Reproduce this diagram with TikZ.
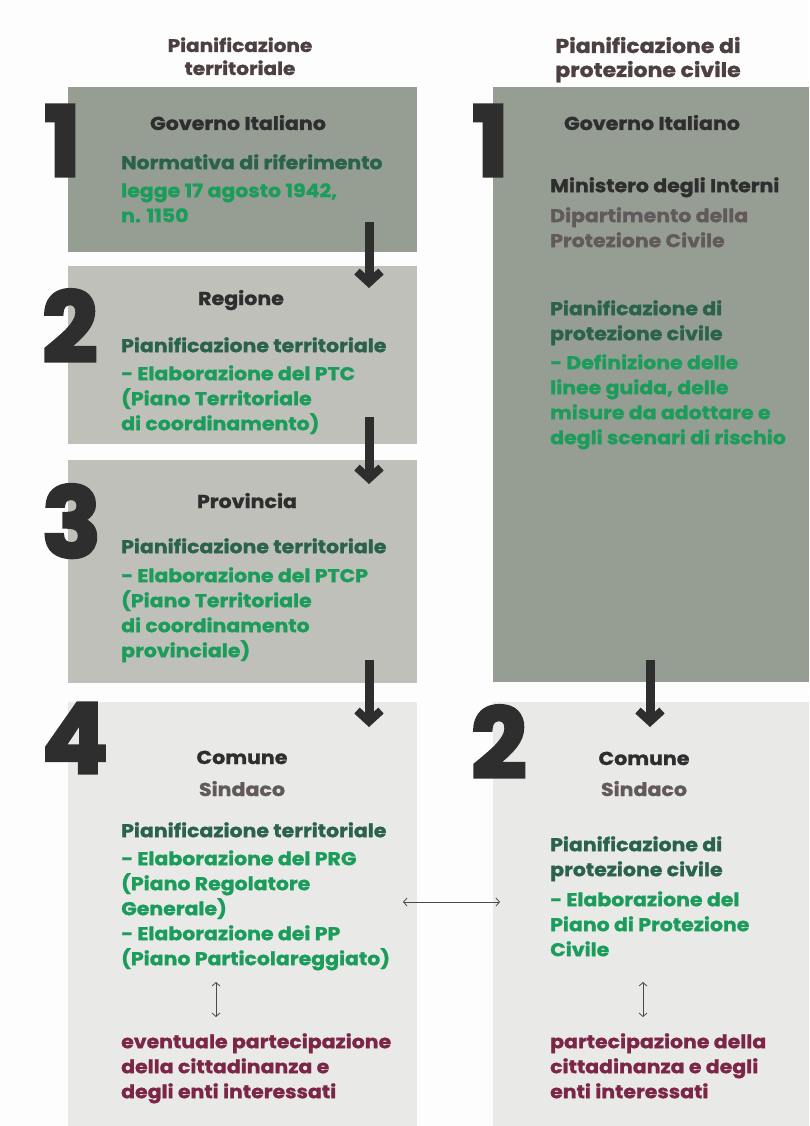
\documentclass[tikz,border=0pt]{standalone}
\usepackage{fontspec}
\setmainfont{Poppins}[BoldFeatures={FakeBold=1.2, FakeStretch=1.1}]
\newfontfamily\numfont{Poppins}[BoldFeatures={FakeBold=3.5}]
\usetikzlibrary{arrows.meta}
\definecolor{bg}{HTML}{FDFDFD}
\definecolor{boxA}{HTML}{969E94}
\definecolor{boxB}{HTML}{BFC0BA}
\definecolor{boxC}{HTML}{E9EAE8}
\definecolor{ink}{HTML}{2E2E2E}
\definecolor{head}{HTML}{4D4040}
\definecolor{dgreen}{HTML}{2A624B}
\definecolor{bgreen}{HTML}{1C9C5B}
\definecolor{grayt}{HTML}{625A5A}
\definecolor{maroon}{HTML}{7B2647}
\definecolor{thin}{HTML}{4A4A4A}
\begin{document}
\begin{tikzpicture}[x=1pt,y=-1pt,
  panel/.style={fill=#1, draw=none, inner sep=0pt, anchor=north west},
  num/.style={anchor=base west, inner sep=0pt, text=ink, font=\numfont\bfseries\fontsize{97}{97}\selectfont},
  hdr/.style={anchor=base, align=center, inner sep=0pt, text=head, font=\bfseries\fontsize{18.2}{23}\selectfont},
  title/.style={anchor=base, inner sep=0pt, text=#1, font=\bfseries\fontsize{18.7}{25}\selectfont},
  block/.style={anchor=north west, align=left, inner sep=0pt, font=\bfseries\fontsize{18.6}{25}\selectfont},
  bigarrow/.style={draw=ink, line width=9pt, -{Straight Barb[length=11pt,width=24pt,line width=8pt]}},
  dbl/.style={draw=thin, line width=0.8pt, {Straight Barb[length=3.5pt,width=8pt]}-{Straight Barb[length=3.5pt,width=8pt]}}
]
\newcommand{\fs}{\rule{0pt}{16pt}}
\path[use as bounding box, fill=bg] (0,0) rectangle (809,1126);

% panels
\node[panel=boxA, minimum width=349pt, minimum height=165pt] (p1) at (68,87) {};
\node[panel=boxB, minimum width=349pt, minimum height=178pt] (p2) at (68,266) {};
\node[panel=boxB, minimum width=349pt, minimum height=223pt] (p3) at (68,460) {};
\node[panel=boxC, minimum width=349pt, minimum height=424pt] (p4) at (68,702) {};
\node[panel=boxA, minimum width=316pt, minimum height=595pt] (q1) at (493,87) {};
\node[panel=boxC, minimum width=316pt, minimum height=424pt] (q2) at (493,702) {};

% headers (anchor = baseline of last line)
\node[hdr] (h1) at (240,75) {Pianificazione\\territoriale};
\node[hdr, font=\bfseries\fontsize{20}{24}\selectfont] (h2) at (648,77) {Pianificazione di\\protezione civile};

% numbers
\node[num] (n1) at (44,176) {1};
\node[num] (n2) at (42,362) {2};
\node[num] (n3) at (42,557) {3};
\node[num] (n4) at (42,773) {4};
\node[num] (m1) at (472,176) {1};
\node[num] (m2) at (471,778) {2};

% left column texts
\node[title=ink] (t1) at (238,130) {Governo Italiano};
\node[block] (b1) at (121,153) {\fs\textcolor{dgreen}{Normativa di riferimento}\\[3pt]
  \textcolor{bgreen}{legge 17 agosto 1942,}\\ \textcolor{bgreen}{n. 1150}};

\node[title=ink] (t2) at (241,305) {Regione};
\node[block] (b2) at (121,336) {\fs\textcolor{dgreen}{Pianificazione territoriale}\\[3pt]
  \textcolor{bgreen}{- Elaborazione del PTC}\\
  \textcolor{bgreen}{(Piano Territoriale}\\
  \textcolor{bgreen}{di coordinamento)}};

\node[title=ink] (t3) at (247,508) {Provincia};
\node[block] (b3) at (121,537) {\fs\textcolor{dgreen}{Pianificazione territoriale}\\[4pt]
  \textcolor{bgreen}{- Elaborazione del PTCP}\\
  \textcolor{bgreen}{(Piano Territoriale}\\
  \textcolor{bgreen}{di coordinamento}\\
  \textcolor{bgreen}{provinciale)}};

\node[title=ink] (t4) at (242,764) {Comune};
\node[title=grayt] (s4) at (242,796) {Sindaco};
\node[block] (b4) at (121,821) {\fs\textcolor{dgreen}{Pianificazione territoriale}\\[3pt]
  \textcolor{bgreen}{- Elaborazione del PRG}\\
  \textcolor{bgreen}{(Piano Regolatore}\\
  \textcolor{bgreen}{Generale)}\\
  \textcolor{bgreen}{- Elaborazione dei PP}\\
  \textcolor{bgreen}{(Piano Particolareggiato)}};
\node[block, text=maroon] (c4) at (121,1032) {\fs eventuale partecipazione\\della cittadinanza e\\degli enti interessati};

% right column texts
\node[title=ink] (u1) at (652,130) {Governo Italiano};
\node[block] (r1) at (550,176) {\fs\textcolor{ink}{Ministero degli Interni}\\[5pt]
  \textcolor{grayt}{Dipartimento della}\\
  \textcolor{grayt}{Protezione Civile}};
\node[block] (r2) at (550,299) {\fs\textcolor{dgreen}{Pianificazione di}\\
  \textcolor{dgreen}{protezione civile}\\[4pt]
  \textcolor{bgreen}{- Definizione delle}\\
  \textcolor{bgreen}{linee guida, delle}\\
  \textcolor{bgreen}{misure da adottare e}\\
  \textcolor{bgreen}{degli scenari di rischio}};

\node[title=ink] (u2) at (644,765) {Comune};
\node[title=grayt] (v2) at (644,796) {Sindaco};
\node[block] (r3) at (550,835) {\fs\textcolor{dgreen}{Pianificazione di}\\
  \textcolor{dgreen}{protezione civile}\\[5pt]
  \textcolor{bgreen}{- Elaborazione del}\\
  \textcolor{bgreen}{Piano di Protezione}\\
  \textcolor{bgreen}{Civile}};
\node[block, text=maroon] (c2) at (550,1032) {\fs partecipazione della\\cittadinanza e degli\\enti interessati};

% arrow end points
\coordinate (a1s) at (369,222);
\coordinate (a1e) at (369,288);
\coordinate (a2s) at (369,417);
\coordinate (a2e) at (369,484);
\coordinate (a3s) at (369,660);
\coordinate (a3e) at (369,727);
\coordinate (a4s) at (650,660);
\coordinate (a4e) at (650,727);
\draw[bigarrow] (a1s) -- (a1e);
\draw[bigarrow] (a2s) -- (a2e);
\draw[bigarrow] (a3s) -- (a3e);
\draw[bigarrow] (a4s) -- (a4e);

% thin double arrows
\coordinate (hl) at (403,902);
\coordinate (hr) at (500,902);
\draw[dbl] (hl) -- (hr);
\coordinate (vl1) at (216,982);
\coordinate (vl2) at (216,1017);
\draw[dbl] (vl1) -- (vl2);
\coordinate (vr1) at (643,982);
\coordinate (vr2) at (643,1017);
\draw[dbl] (vr1) -- (vr2);
\end{tikzpicture}
\end{document}
